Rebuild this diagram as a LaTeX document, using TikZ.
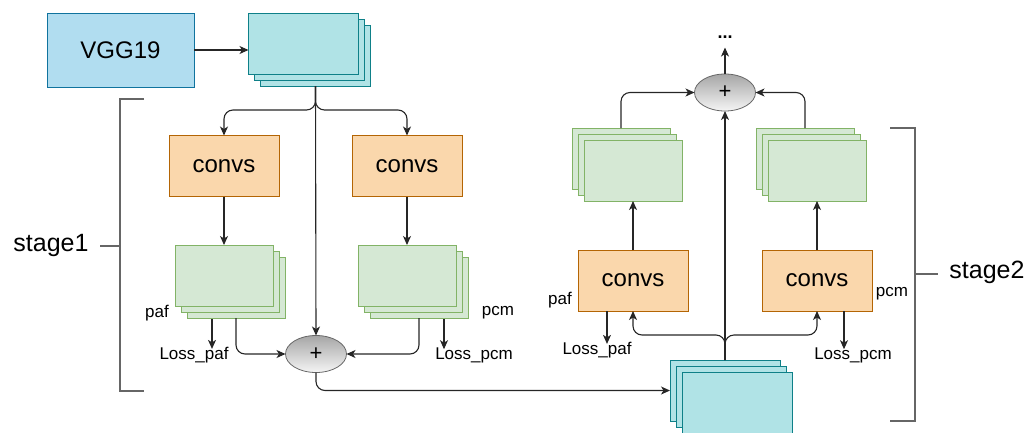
\documentclass[tikz,border=0pt]{standalone}
\usepackage{fontspec}
\setmainfont{Liberation Sans}
\usetikzlibrary{arrows.meta,shapes.geometric}
\definecolor{bluef}{HTML}{B1DDF0}\definecolor{blued}{HTML}{10739E}
\definecolor{tealf}{HTML}{B0E3E6}\definecolor{teald}{HTML}{0E8088}
\definecolor{orf}{HTML}{FAD7AC}\definecolor{ord}{HTML}{B46504}
\definecolor{grf}{HTML}{D5E8D4}\definecolor{grd}{HTML}{82B366}
\definecolor{brk}{HTML}{666666}
\tikzset{
  box/.style={rectangle,inner sep=0pt,outer sep=0pt,line width=1pt},
  vggbox/.style={box,fill=bluef,draw=blued,minimum width=147pt,minimum height=74pt,font=\fontsize{24}{28}\selectfont},
  tealbox/.style={box,fill=tealf,draw=teald,minimum width=110pt,minimum height=61pt},
  convbox/.style={box,fill=orf,draw=ord,minimum width=110pt,minimum height=61pt,font=\fontsize{24}{28}\selectfont},
  greenbox/.style={box,fill=grf,draw=grd,minimum width=98pt,minimum height=61pt},
  plusnode/.style={ellipse,inner sep=0pt,outer sep=0pt,minimum width=61pt,minimum height=37pt,draw=brk,line width=0.8pt,top color=black!35,bottom color=black!4,font=\fontsize{22}{24}\selectfont},
  lbl/.style={inner sep=0pt,font=\fontsize{17}{20}\selectfont},
  stagelbl/.style={inner sep=0pt,font=\fontsize{25}{28}\selectfont},
  arr/.style={draw=black!85,line width=1.1pt,-{Stealth[length=9pt,width=8pt,inset=2.5pt]}},
  bracket/.style={draw=brk,line width=2.2pt},
}
\begin{document}
\begin{tikzpicture}[x=1pt,y=-1pt]
\useasboundingbox (0,0) rectangle (1025,432);
% ---------------- stage 1 ----------------
\node[vggbox] (vgg) at (120.5,50) {VGG19};
\node[tealbox] (t1c) at (315.5,55.5) {};
\node[tealbox] (t1b) at (309.5,49.5) {};
\node[tealbox] (t1a) at (303.5,43.5) {};
\node[convbox] (c1l) at (224,166) {convs};
\node[convbox] (c1r) at (407,166) {convs};
\node[greenbox] (g1lc) at (236,287.5) {};
\node[greenbox] (g1lb) at (230,281.5) {};
\node[greenbox] (g1la) at (224,275.5) {};
\node[greenbox] (g1rc) at (419,287.5) {};
\node[greenbox] (g1rb) at (413,281.5) {};
\node[greenbox] (g1ra) at (407,275.5) {};
\node[plusnode] (p1) at (316,354) {+};
\node[lbl] (paf1) at (157,313) {paf};
\node[lbl] (pcm1) at (498,313) {pcm};
\node[lbl] (lpaf1) at (194,355) {Loss\_paf};
\node[lbl] (lpcm1) at (474,355) {Loss\_pcm};
\coordinate (s1) at (315.5,110);
\coordinate (lp1) at (212,319);
\coordinate (lc1) at (444,319);
\draw[arr] (vgg.east) -- (vgg.east -| t1a.west);
\draw[arr] (t1c.south) -- (p1.north);
\draw[arr,rounded corners=9pt] (t1c.south) -- (s1) -- (s1 -| c1l.north) -- (c1l.north);
\draw[arr,rounded corners=9pt] (t1c.south) -- (s1) -- (s1 -| c1r.north) -- (c1r.north);
\draw[arr] (c1l.south) -- (g1la.north);
\draw[arr] (c1r.south) -- (g1ra.north);
\draw[arr,rounded corners=9pt] (g1lc.south) |- (p1.west);
\draw[arr,rounded corners=9pt] (g1rc.south) |- (p1.east);
\draw[arr] (lp1) -- ([yshift=-2pt]lp1 |- lpaf1.north);
\draw[arr] (lc1) -- ([yshift=-2pt]lc1 |- lpcm1.north);
% ---------------- stage 2 ----------------
\node[tealbox] (t2a) at (725,390.5) {};
\node[tealbox] (t2b) at (731,396.5) {};
\node[tealbox] (t2c) at (737,402.5) {};
\node[convbox] (c2l) at (633,280.5) {convs};
\node[convbox] (c2r) at (817,280.5) {convs};
\node[greenbox] (g2la) at (621,158.5) {};
\node[greenbox] (g2lb) at (627,164.5) {};
\node[greenbox] (g2lc) at (633,170.5) {};
\node[greenbox] (g2ra) at (805,158.5) {};
\node[greenbox] (g2rb) at (811,164.5) {};
\node[greenbox] (g2rc) at (817,170.5) {};
\node[plusnode] (p2) at (725,92.5) {+};
\node[inner sep=0pt,font=\bfseries\fontsize{18}{20}\selectfont] (dots) at (725,37) {...};
\node[lbl] (paf2) at (560,300) {paf};
\node[lbl] (pcm2) at (892,294) {pcm};
\node[lbl] (lpaf2) at (597,350) {Loss\_paf};
\node[lbl] (lpcm2) at (853,355) {Loss\_pcm};
\coordinate (s2) at (725,335);
\coordinate (lp2) at (607,311);
\coordinate (lc2) at (844,311);
\draw[arr,rounded corners=9pt] (p1.south) |- (t2a.west);
\draw[arr] (t2a.north) -- (p2.south);
\draw[arr,rounded corners=9pt] (t2a.north) -- (s2) -- (s2 -| c2l.south) -- (c2l.south);
\draw[arr,rounded corners=9pt] (t2a.north) -- (s2) -- (s2 -| c2r.south) -- (c2r.south);
\draw[arr] (c2l.north) -- (g2lc.south);
\draw[arr] (c2r.north) -- (g2rc.south);
\draw[arr,rounded corners=9pt] (g2la.north) |- (p2.west);
\draw[arr,rounded corners=9pt] (g2ra.north) |- (p2.east);
\draw[arr] (p2.north) -- ([yshift=-9pt]dots.south);
\draw[arr] (lp2) -- ([yshift=-2pt]lp2 |- lpaf2.north);
\draw[arr] (lc2) -- ([yshift=-2pt]lc2 |- lpcm2.north);
% ---------------- brackets ----------------
\node[stagelbl] (st1) at (51,245) {stage1};
\node[stagelbl] (st2) at (987,272) {stage2};
\draw[bracket] (144,99) -- (120,99) -- (120,391) -- (144,391);
\draw[bracket] (120,246) -- (100,246);
\draw[bracket] (890,128) -- (915,128) -- (915,421) -- (890,421);
\draw[bracket] (915,274) -- (938,274);
\end{tikzpicture}
\end{document}
